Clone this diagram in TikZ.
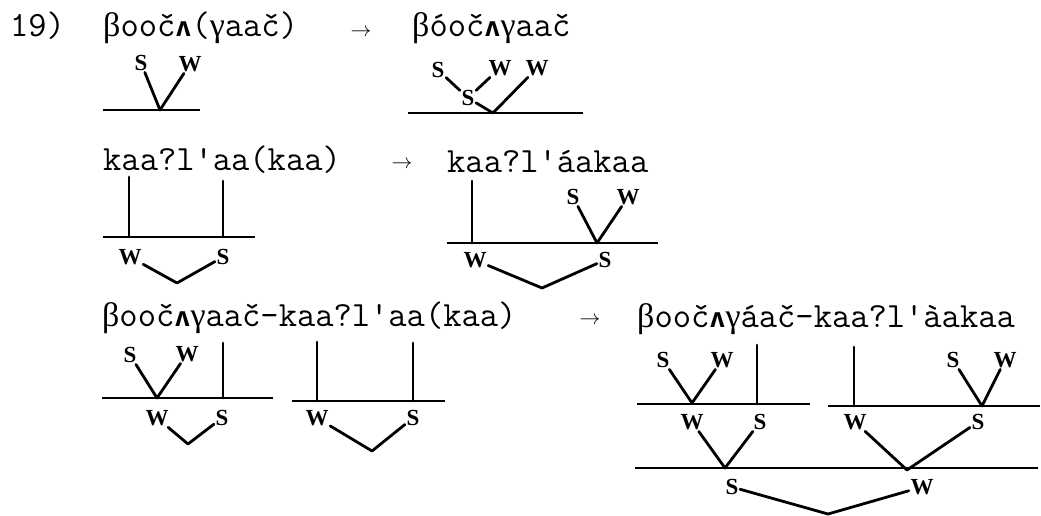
\documentclass[tikz,border=0pt]{standalone}
\usepackage{fontspec}
\usepackage{tikz}
\usetikzlibrary{positioning}

\newfontfamily\greekfont{Liberation Serif}
\newfontfamily\labfont{Liberation Serif}
\newfontfamily\wedgefont{DejaVu Sans Mono}
\newcommand{\wdg}{{\wedgefont\bfseries\fontsize{27}{27}\selectfont ʌ}}
\newcommand{\grk}[1]{{\greekfont\fontsize{34}{34}\selectfont #1}}

\begin{document}
\begin{tikzpicture}[x=1pt, y=-1pt,
    txt/.style={font=\ttfamily\fontsize{35.5}{40}\selectfont, anchor=base west, inner sep=0pt},
    lab/.style={font=\labfont\bfseries\fontsize{23}{23}\selectfont, inner sep=1.5pt},
    arr/.style={font=\fontsize{22}{22}\selectfont, inner sep=0pt},
    branch/.style={line width=2.8pt, line cap=round, line join=round},
    tier/.style={line width=1.9pt}]

\useasboundingbox (0,0) rectangle (1041,516);

% Example number
\node[txt] (num) at (10,37) {19)};

% ---------------- Row 1 ----------------
\node[txt] (r1a) at (103,37) {\grk{β}ooč\wdg(\grk{γ}aač)};
\node[arr] (r1arr) at (361,33) {$\rightarrow$};
\node[txt] (r1b) at (412,37) {\grk{β}óoč\wdg\grk{γ}aač};

% left: S W over one tier
\node[lab] (s1) at (141,63) {S};
\node[lab] (w1) at (190,64) {W};
\coordinate (j1) at (160,110);
\draw[tier] (103,110) -- (200,110);
\draw[branch] (s1) -- (j1) -- (w1);

% right: S W above S, then S W
\node[lab] (s1b) at (438,70) {S};
\node[lab] (w1b) at (500,68) {W};
\node[lab] (w1c) at (537,68) {W};
\node[lab] (s1c) at (468,98) {S};
\coordinate (j1b) at (493,113);
\draw[tier] (408,113) -- (583,113);
\draw[branch] (s1b) -- (s1c);
\draw[branch] (w1b) -- (s1c);
\draw[branch] (s1c) -- (j1b) -- (w1c);

% ---------------- Row 2 ----------------
\node[txt] (r2a) at (103,171) {kaa?l'aa(kaa)};
\node[arr] (r2arr) at (402,165) {$\rightarrow$};
\node[txt] (r2b) at (447,172) {kaa?l'áakaa};

% left
\coordinate (u2a) at (129,177);
\coordinate (j2a) at (129,237);
\coordinate (u2b) at (223,181);
\coordinate (j2b) at (223,237);
\draw[tier] (103,237) -- (255,237);
\draw[branch] (u2a) -- (j2a);
\draw[branch] (u2b) -- (j2b);
\node[lab] (w2) at (130,257) {W};
\node[lab] (s2) at (223,257) {S};
\coordinate (v2) at (177,283);
\draw[branch] (w2) -- (v2) -- (s2);

% right
\coordinate (u2c) at (472,181);
\coordinate (j2c) at (472,243);
\draw[tier] (447,243) -- (658,243);
\draw[branch] (u2c) -- (j2c);
\node[lab] (s2b) at (573,197) {S};
\node[lab] (w2b) at (628,197) {W};
\coordinate (j2d) at (597,243);
\draw[branch] (s2b) -- (j2d) -- (w2b);
\node[lab] (w2c) at (475,260) {W};
\node[lab] (s2c) at (605,260) {S};
\coordinate (v2b) at (542,288);
\draw[branch] (w2c) -- (v2b) -- (s2c);

% ---------------- Row 3 ----------------
\node[txt] (r3a) at (102,326) {\grk{β}ooč\wdg\grk{γ}aač-kaa?l'aa(kaa)};
\node[arr] (r3arr) at (590,321) {$\rightarrow$};
\node[txt] (r3b) at (637,327) {\grk{β}ooč\wdg\grk{γ}áač-kaa?l'àakaa};

% left, first word
\node[lab] (s3) at (130,355) {S};
\node[lab] (w3) at (187,354) {W};
\coordinate (j3a) at (157,398);
\coordinate (u3b) at (223,343);
\coordinate (j3b) at (223,398);
\draw[tier] (102,398) -- (273,398);
\draw[branch] (s3) -- (j3a) -- (w3);
\draw[branch] (u3b) -- (j3b);
\node[lab] (w3b) at (157,418) {W};
\node[lab] (s3b) at (222,418) {S};
\coordinate (v3a) at (188,444);
\draw[branch] (w3b) -- (v3a) -- (s3b);

% left, second word
\coordinate (u3c) at (317,342);
\coordinate (j3c) at (317,401);
\coordinate (u3d) at (413,343);
\coordinate (j3d) at (413,401);
\draw[tier] (292,401) -- (445,401);
\draw[branch] (u3c) -- (j3c);
\draw[branch] (u3d) -- (j3d);
\node[lab] (w3c) at (317,418) {W};
\node[lab] (s3c) at (413,418) {S};
\coordinate (v3b) at (372,451);
\draw[branch] (w3c) -- (v3b) -- (s3c);

% right, compound
\node[lab] (s4) at (663,360) {S};
\node[lab] (w4) at (722,360) {W};
\coordinate (j4a) at (692,403);
\coordinate (u4b) at (757,345);
\coordinate (j4b) at (757,404);
\draw[tier] (637,404) -- (810,404);
\draw[branch] (s4) -- (j4a) -- (w4);
\draw[branch] (u4b) -- (j4b);

\coordinate (u4c) at (854,347);
\coordinate (j4c) at (854,406);
\node[lab] (s4b) at (953,360) {S};
\node[lab] (w4b) at (1005,360) {W};
\coordinate (j4d) at (982,406);
\draw[tier] (828,406) -- (1040,406);
\draw[branch] (u4c) -- (j4c);
\draw[branch] (s4b) -- (j4d) -- (w4b);

% second tier
\node[lab] (w5) at (692,422) {W};
\node[lab] (s5) at (760,422) {S};
\node[lab] (w5b) at (855,422) {W};
\node[lab] (s5b) at (978,422) {S};
\coordinate (j5a) at (725,468);
\coordinate (j5b) at (907,470);
\draw[tier] (635,468) -- (1038,468);
\draw[branch] (w5) -- (j5a) -- (s5);
\draw[branch] (w5b) -- (j5b) -- (s5b);

% top of compound
\node[lab] (s6) at (732,487) {S};
\node[lab] (w6) at (922,487) {W};
\coordinate (v6) at (828,514);
\draw[branch] (s6) -- (v6) -- (w6);

\end{tikzpicture}
\end{document}
